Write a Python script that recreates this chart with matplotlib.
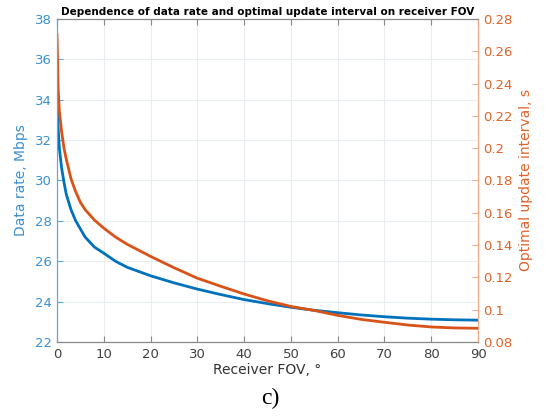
import numpy as np
import matplotlib
matplotlib.use("Agg")
import matplotlib.pyplot as plt

# values
fov = [0, 0.25, 0.5, 1, 1.5, 2, 3, 4, 5, 6, 8, 10, 12.5, 15, 20, 25, 30, 35,
       40, 45, 50, 55, 60, 65, 70, 75, 80, 85, 90]
data_rate = [34.8, 32.6, 31.6, 30.6, 29.9, 29.3, 28.55, 28.0, 27.6, 27.2, 26.7,
             26.4, 26.0, 25.7, 25.28, 24.93, 24.62, 24.35, 24.1, 23.9, 23.72,
             23.57, 23.45, 23.34, 23.25, 23.18, 23.13, 23.1, 23.08]
update_int = [0.270, 0.237, 0.223, 0.210, 0.200, 0.193, 0.181, 0.173, 0.1665,
              0.162, 0.1555, 0.1505, 0.145, 0.1405, 0.133, 0.126, 0.1195, 0.1145,
              0.1097, 0.1055, 0.102, 0.0995, 0.0965, 0.094, 0.0922, 0.0905,
              0.0893, 0.0887, 0.0885]

blue = '#0072BD'
orange = '#D95319'
blue_lt = '#5aaae0'
orange_lt = '#f2a988'

plt.rcParams['font.family'] = 'DejaVu Sans'

fig = plt.figure(figsize=(5.47, 4.19), dpi=100)
ax = fig.add_axes([0.1042, 0.1838, 0.7697, 0.7709])
ax2 = ax.twinx()

ax.plot(fov, data_rate, color=blue, lw=2)
ax2.plot(fov, update_int, color=orange, lw=2)

ax.set_xlim(0, 90)
ax.set_ylim(22, 38)
ax2.set_ylim(0.08, 0.28)
ax.set_xticks(np.arange(0, 91, 10))
ax.set_yticks(np.arange(22, 39, 2))
ax2.set_yticks(np.arange(0.08, 0.281, 0.02))
ax2.set_yticklabels(['0.08', '0.1', '0.12', '0.14', '0.16', '0.18', '0.2',
                     '0.22', '0.24', '0.26', '0.28'])

ax.grid(True, color='#e8eef2', lw=0.8)
ax.set_axisbelow(True)

ax.tick_params(axis='x', direction='in', top=True, colors='#888888',
               labelcolor='#404040', labelsize=9.5, length=4, pad=4)
ax.tick_params(axis='y', direction='in', colors=blue_lt, labelcolor='#3a8fd0',
               labelsize=9.5, length=4)
ax2.tick_params(axis='y', direction='in', colors=orange_lt,
                labelcolor='#e0622a', labelsize=9.5, length=4)

for a in (ax, ax2):
    a.spines['top'].set_color('#888888')
    a.spines['bottom'].set_color('#888888')
    a.spines['left'].set_color(blue_lt)
    a.spines['right'].set_color(orange_lt)

ax.set_xlabel('Receiver FOV, °', fontsize=10, color='#333333', labelpad=2)
ax.set_ylabel('Data rate, Mbps', fontsize=10, color='#3a8fd0', labelpad=5)
ax2.set_ylabel('Optimal update interval, s', fontsize=10, color='#e0622a',
               labelpad=5)
ax.set_title('Dependence of data rate and optimal update interval on receiver FOV',
             fontsize=7.5, fontweight='bold', pad=3)

fig.text(0.494, 0.05, 'c)', fontsize=17, family='Liberation Serif',
         ha='center', va='center')

fig.savefig('out.png', dpi=100)
